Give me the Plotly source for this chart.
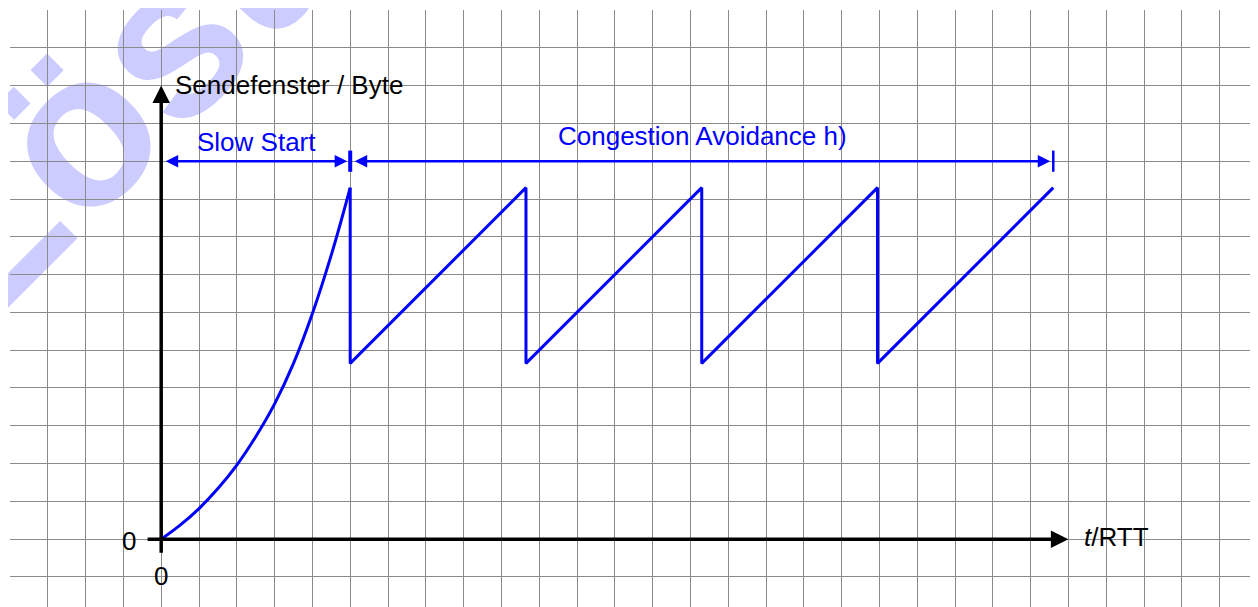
import plotly.graph_objects as go

# ---- data (grid units: 1 unit = 1 grid cell) ----
slow_start_t = [0, 0.5, 1, 1.5, 2, 2.5, 3, 3.5, 4, 4.5, 5]
slow_start_w = [0, 0.37, 0.81, 1.34, 1.96, 2.71, 3.58, 4.65, 5.97, 7.52, 9.3]

ca_t = [5, 5, 9.65, 9.65, 14.3, 14.3, 18.95, 18.95, 23.6]
ca_w = [9.3, 4.65, 9.3, 4.65, 9.3, 4.65, 9.3, 4.65, 9.3]

x_label = "<i>t</i>/RTT"
y_label = "Sendefenster / Byte"
phase_labels = ["Slow Start", "Congestion Avoidance h)"]
phase_bounds = [0, 5, 23.6]
origin_label = "0"
watermark = "Lösung"

FONT = "Liberation Sans, Arial, Helvetica, sans-serif"
BLUE = "#0000ff"

fig = go.Figure()

fig.add_trace(go.Scatter(x=slow_start_t, y=slow_start_w, mode="lines",
                         line=dict(color=BLUE, width=3, shape="spline", smoothing=1.2),
                         hoverinfo="skip", showlegend=False))
fig.add_trace(go.Scatter(x=ca_t, y=ca_w, mode="lines",
                         line=dict(color=BLUE, width=3),
                         hoverinfo="skip", showlegend=False))

annotations = []
# axes with arrows
annotations.append(dict(x=24, y=0, ax=-0.4, ay=0, xref="x", yref="y", axref="x", ayref="y",
                        text="", showarrow=True, arrowhead=2, arrowsize=1, arrowwidth=3.5,
                        arrowcolor="black"))
annotations.append(dict(x=0, y=12, ax=0, ay=-0.4, xref="x", yref="y", axref="x", ayref="y",
                        text="", showarrow=True, arrowhead=2, arrowsize=1, arrowwidth=3.5,
                        arrowcolor="black"))
# dimension arrows
dim_y = 10
for a, b in zip(phase_bounds[:-1], phase_bounds[1:]):
    annotations.append(dict(x=b, y=dim_y, ax=a, ay=dim_y, xref="x", yref="y", axref="x", ayref="y",
                            text="", showarrow=True, arrowhead=2, startarrowhead=2,
                            arrowside="end+start", arrowsize=1, startarrowsize=1,
                            arrowwidth=2.5, arrowcolor=BLUE, standoff=3, startstandoff=3))

# texts
annotations.append(dict(x=0.31, y=12.02, xref="x", yref="y", text=y_label, showarrow=False,
                        xanchor="left", yanchor="middle", font=dict(family=FONT, size=26, color="black")))
annotations.append(dict(x=24.35, y=0.05, xref="x", yref="y", text=x_label, showarrow=False,
                        xanchor="left", yanchor="middle", font=dict(family=FONT, size=26, color="black")))
annotations.append(dict(x=2.52, y=10.52, xref="x", yref="y", text=phase_labels[0], showarrow=False,
                        xanchor="center", yanchor="middle", font=dict(family=FONT, size=26, color=BLUE)))
annotations.append(dict(x=14.32, y=10.66, xref="x", yref="y", text=phase_labels[1], showarrow=False,
                        xanchor="center", yanchor="middle", font=dict(family=FONT, size=26, color=BLUE)))
annotations.append(dict(x=-0.865, y=-0.05, xref="x", yref="y", text=origin_label, showarrow=False,
                        xanchor="center", yanchor="middle", font=dict(family=FONT, size=26, color="black")))
annotations.append(dict(x=0, y=-0.97, xref="x", yref="y", text=origin_label, showarrow=False,
                        xanchor="center", yanchor="middle", font=dict(family=FONT, size=26, color="black")))

shapes = []
# end bars of dimension arrows
for xb in phase_bounds:
    shapes.append(dict(type="line", xref="x", yref="y", x0=xb, x1=xb, y0=dim_y - 0.28, y1=dim_y + 0.28,
                       line=dict(color=BLUE, width=4 if xb == 5 else 2.5)))
# watermark (below grid)
shapes.append(dict(type="rect", xref="paper", yref="paper", x0=0.1515, x1=0.1523, y0=1.0514, y1=1.0524,
                   line=dict(width=0), fillcolor="rgba(0,0,0,0)", layer="below",
                   label=dict(text=watermark, textangle=-45, textposition="middle center",
                              font=dict(family=FONT, size=220, color="#ccccff", weight="bold"))))

grid = dict(showgrid=True, gridcolor="#8a8a8a", gridwidth=1, dtick=1, tick0=0,
            zeroline=False, showticklabels=False, ticks="", showline=False)

fig.update_layout(
    width=1250, height=599,
    margin=dict(l=2, r=0, t=2, b=0),
    paper_bgcolor="white", plot_bgcolor="white",
    xaxis=dict(range=[-4, 29.016], **grid),
    yaxis=dict(range=[-1.794, 14], **grid),
    annotations=annotations, shapes=shapes,
    showlegend=False,
)

fig.write_html("out.html")
